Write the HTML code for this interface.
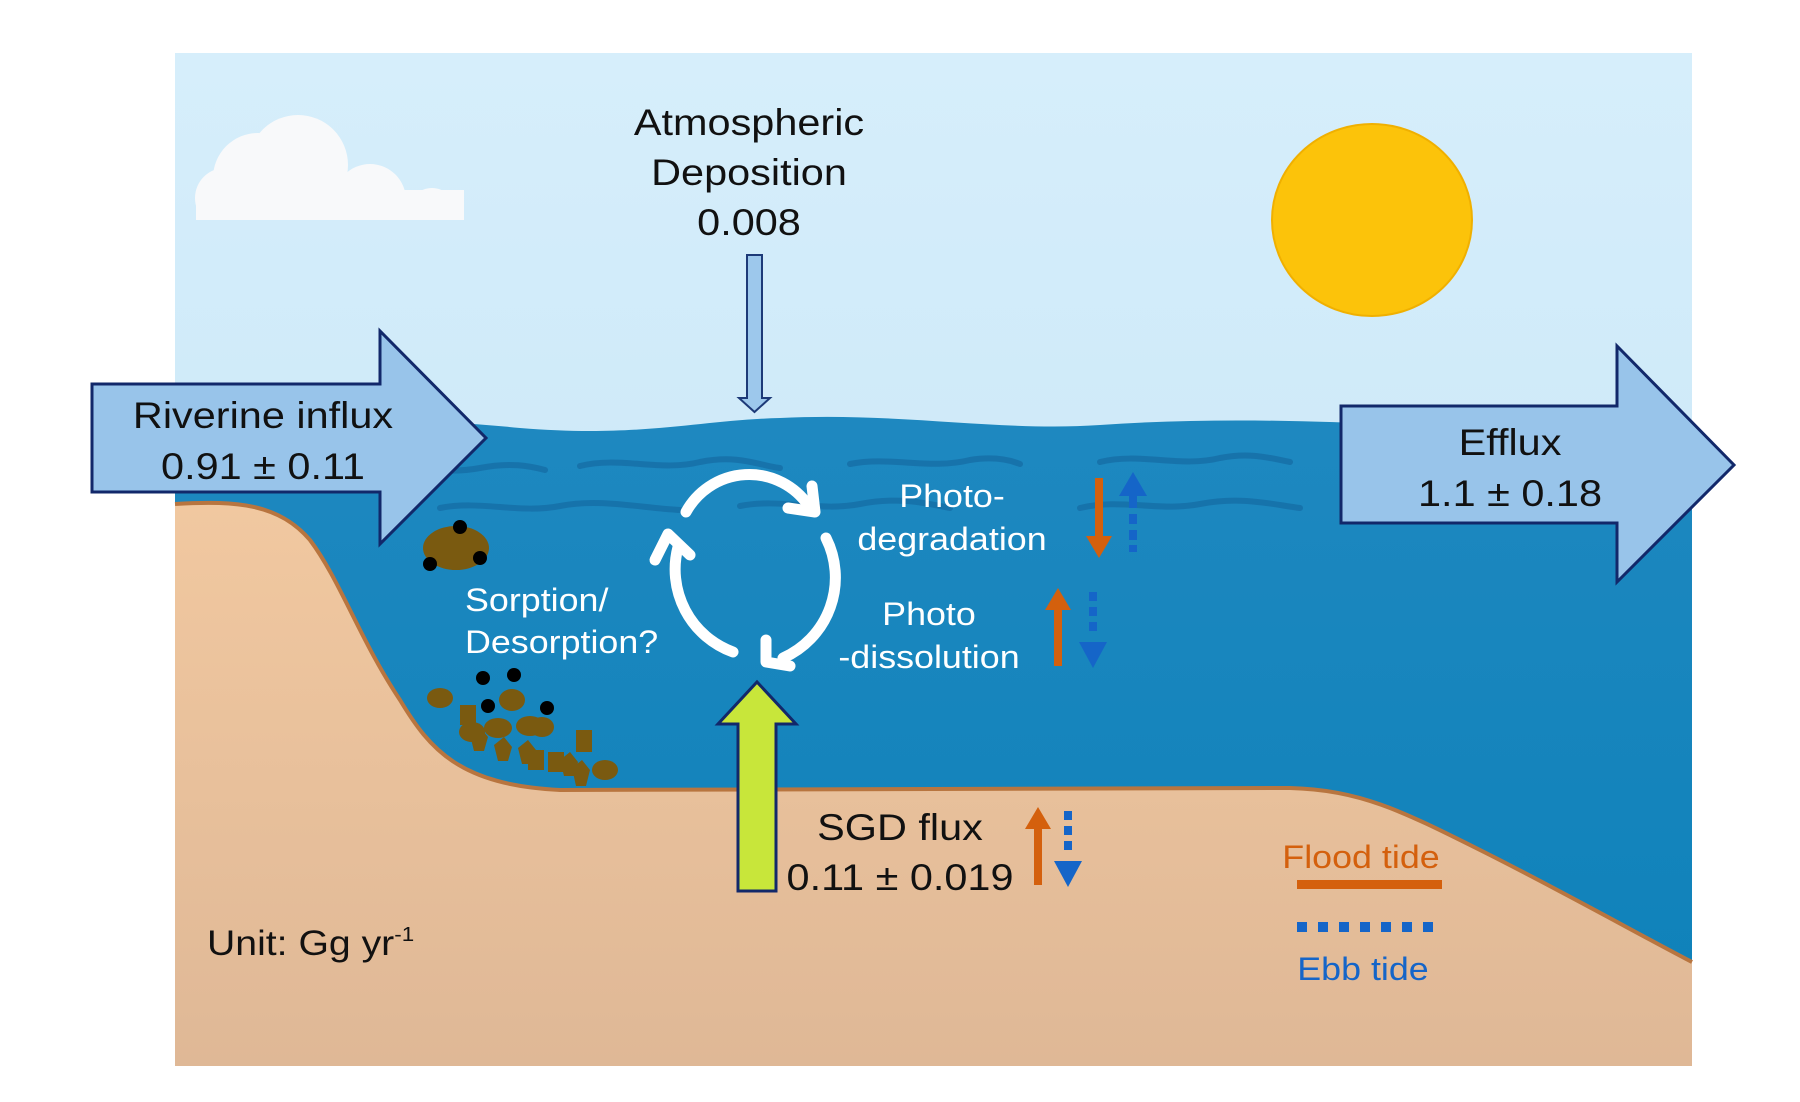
<!DOCTYPE html>
<html><head><meta charset="utf-8"><style>
html,body{margin:0;padding:0;background:#fff;width:1800px;height:1102px;overflow:hidden}
svg{display:block}
text{font-family:"Liberation Sans",Arial,sans-serif}
</style></head><body>
<svg width="1800" height="1102" viewBox="0 0 1800 1102" xmlns="http://www.w3.org/2000/svg">
<defs>
<linearGradient id="sky" x1="0" y1="0" x2="0" y2="1"><stop offset="0" stop-color="#d6eefb"/><stop offset="1" stop-color="#c4e4f5"/></linearGradient>
<linearGradient id="sea" x1="0" y1="0" x2="0" y2="1"><stop offset="0" stop-color="#1e88c0"/><stop offset="1" stop-color="#0f82ba"/></linearGradient>
<linearGradient id="sand" x1="0" y1="0" x2="0" y2="1"><stop offset="0" stop-color="#f1c8a0"/><stop offset="1" stop-color="#dfb896"/></linearGradient>
<clipPath id="cc"><rect x="180" y="80" width="300" height="140"/></clipPath>
</defs>
<rect x="175" y="53" width="1517" height="1012" fill="url(#sky)"/>
<path d="M175 425 C300 415 420 418 520 428 C640 438 700 420 780 418 C900 412 1000 432 1100 425 C1200 418 1300 420 1400 425 L1692 428 L1692 1000 L175 1000 Z" fill="url(#sea)"/>
<g fill="none" stroke="#1670a8" stroke-width="6" stroke-linecap="round" opacity="0.85">
<path d="M360 470 C400 462 440 476 480 468 C510 462 530 466 545 470"/>
<path d="M580 466 C620 456 660 472 700 462 C740 454 760 466 780 468"/>
<path d="M850 464 C890 456 930 470 970 460 C995 456 1010 460 1020 464"/>
<path d="M1100 462 C1140 452 1180 468 1220 458 C1250 452 1270 458 1290 462"/>
<path d="M440 508 C480 500 520 514 560 506 C600 498 640 508 680 510"/>
<path d="M740 506 C780 498 820 512 860 504 C900 496 930 504 950 508"/>
<path d="M1080 508 C1120 498 1160 512 1200 504 C1240 496 1270 504 1300 508"/>
</g>
<path d="M175 504 C240 500 280 505 310 540 C340 580 360 640 400 700 C430 750 460 785 560 790 L1290 788 C1360 790 1400 810 1480 850 C1560 890 1640 935 1692 962 L1692 1066 L175 1066 Z" fill="url(#sand)"/>
<path d="M175 504 C240 500 280 505 310 540 C340 580 360 640 400 700 C430 750 460 785 560 790 L1290 788 C1360 790 1400 810 1480 850 C1560 890 1640 935 1692 962" fill="none" stroke="#b8753f" stroke-width="4"/>
<g fill="#f8f9fa" clip-path="url(#cc)">
<circle cx="258" cy="178" r="45"/><circle cx="298" cy="165" r="50"/><circle cx="370" cy="200" r="36"/><circle cx="432" cy="212" r="24"/><circle cx="225" cy="198" r="30"/>
<rect x="196" y="190" width="268" height="30"/>
</g>
<ellipse cx="1372" cy="220" rx="100" ry="96" fill="#fcc30a" stroke="#f0b000" stroke-width="2"/>
<g font-size="37" text-anchor="middle" fill="#111">
<text transform="translate(749,135) scale(1.12,1)">Atmospheric</text>
<text transform="translate(749,185) scale(1.12,1)">Deposition</text>
<text transform="translate(749,235) scale(1.12,1)">0.008</text>
</g>
<path d="M747 255 L762 255 L762 398 L770 398 L754.5 412 L739 398 L747 398 Z" fill="#9dc8ec" stroke="#1d3a78" stroke-width="2"/>
<path d="M92 384 L380 384 L380 331 L486 438 L380 544 L380 492 L92 492 Z" fill="#98c4ea" stroke="#12286a" stroke-width="3"/>
<g font-size="37" text-anchor="middle" fill="#111">
<text transform="translate(263,428) scale(1.12,1)">Riverine influx</text>
<text transform="translate(263,479) scale(1.12,1)">0.91 ± 0.11</text>
</g>
<path d="M1341 406 L1617 406 L1617 346 L1734 465 L1617 582 L1617 523 L1341 523 Z" fill="#98c4ea" stroke="#12286a" stroke-width="3"/>
<g font-size="37" text-anchor="middle" fill="#111">
<text transform="translate(1510,455) scale(1.12,1)">Efflux</text>
<text transform="translate(1510,506) scale(1.12,1)">1.1 ± 0.18</text>
</g>
<g fill="#7a5a10">
<ellipse cx="456" cy="548" rx="33" ry="22"/>
<ellipse cx="440" cy="698" rx="13" ry="10"/><ellipse cx="512" cy="700" rx="13" ry="11"/><ellipse cx="498" cy="728" rx="14" ry="10"/><ellipse cx="530" cy="726" rx="14" ry="10"/><ellipse cx="472" cy="732" rx="13" ry="10"/><ellipse cx="542" cy="727" rx="12" ry="10"/><ellipse cx="605" cy="770" rx="13" ry="10"/>
<rect x="460" y="705" width="16" height="20"/><rect x="576" y="730" width="16" height="22"/><rect x="528" y="750" width="16" height="20"/><rect x="548" y="752" width="16" height="20"/>
<path d="M470 735 l10 -8 l8 10 l-4 14 h-10 Z"/><path d="M494 745 l10 -8 l8 10 l-4 14 h-10 Z"/><path d="M518 748 l10 -8 l8 10 l-4 14 h-10 Z"/><path d="M560 760 l10 -8 l8 10 l-4 14 h-10 Z"/><path d="M572 768 l10 -8 l8 10 l-4 16 h-10 Z"/>
</g>
<g fill="#000">
<circle cx="460" cy="527" r="7"/><circle cx="430" cy="564" r="7"/><circle cx="480" cy="558" r="7"/>
<circle cx="483" cy="678" r="7"/><circle cx="514" cy="675" r="7"/><circle cx="488" cy="706" r="7"/><circle cx="547" cy="708" r="7"/>
</g>
<g fill="none" stroke="#fff" stroke-width="11" stroke-linecap="round">
<path d="M686 512 A72 72 0 0 1 808 505"/>
<path d="M826 538 A88 88 0 0 1 783 658"/>
<path d="M733 652 A88 88 0 0 1 678 547"/>
</g>
<g fill="none" stroke="#fff" stroke-width="11" stroke-linecap="round" stroke-linejoin="round">
<path d="M788 508 L815 512 L812 486"/>
<path d="M766 640 L766 662 L790 666"/>
<path d="M655 560 L668 534 L690 555"/>
</g>
<g font-size="32" fill="#fff">
<text text-anchor="middle" transform="translate(952,507) scale(1.12,1)">Photo-</text>
<text text-anchor="middle" transform="translate(952,550) scale(1.12,1)">degradation</text>
<text text-anchor="middle" transform="translate(929,625) scale(1.12,1)">Photo</text>
<text text-anchor="middle" transform="translate(929,668) scale(1.12,1)">-dissolution</text>
<text transform="translate(465,611) scale(1.12,1)">Sorption/</text>
<text transform="translate(465,653) scale(1.12,1)">Desorption?</text>
</g>
<g fill="#d4600d">
<path d="M1095 478 h8 v58 h9 l-13 22 l-13 -22 h9 Z"/>
<path d="M1054 666 h8 v-56 h9 l-13 -22 l-13 22 h9 Z"/>
<path d="M1034 885 h8 v-56 h9 l-13 -22 l-13 22 h9 Z"/>
</g>
<g fill="#1565c8">
<path d="M1133 472 l-14 24 h28 Z"/><rect x="1129" y="496" width="8" height="12"/><rect x="1129" y="514" width="8" height="10"/><rect x="1129" y="530" width="8" height="10"/><rect x="1129" y="545" width="8" height="7"/>
<path d="M1093 668 l-14 -26 h28 Z"/><rect x="1089" y="592" width="8" height="9"/><rect x="1089" y="607" width="8" height="9"/><rect x="1089" y="622" width="8" height="9"/>
<path d="M1068 887 l-14 -26 h28 Z"/><rect x="1064" y="811" width="8" height="9"/><rect x="1064" y="826" width="8" height="9"/><rect x="1064" y="841" width="8" height="9"/>
</g>
<path d="M738 891 L776 891 L776 724 L796 724 L757 682 L718 724 L738 724 Z" fill="#c8e63a" stroke="#12286a" stroke-width="3"/>
<g font-size="37" fill="#111" text-anchor="middle">
<text transform="translate(900,840) scale(1.12,1)">SGD flux</text>
<text transform="translate(900,890) scale(1.12,1)">0.11 ± 0.019</text>
</g>
<text transform="translate(1361,868) scale(1.12,1)" font-size="32" fill="#d4600d" text-anchor="middle">Flood tide</text>
<rect x="1297" y="880" width="145" height="9" fill="#d4600d"/>
<g fill="#1565c8"><rect x="1297" y="922" width="10" height="10"/><rect x="1318" y="922" width="10" height="10"/><rect x="1339" y="922" width="10" height="10"/><rect x="1360" y="922" width="10" height="10"/><rect x="1381" y="922" width="10" height="10"/><rect x="1402" y="922" width="10" height="10"/><rect x="1423" y="922" width="10" height="10"/></g>
<text transform="translate(1363,980) scale(1.12,1)" font-size="32" fill="#1565c8" text-anchor="middle">Ebb tide</text>
<text transform="translate(207,955) scale(1.12,1)" font-size="35" fill="#111">Unit: Gg yr<tspan font-size="20" dy="-14">-1</tspan></text>
</svg>
</body></html>
